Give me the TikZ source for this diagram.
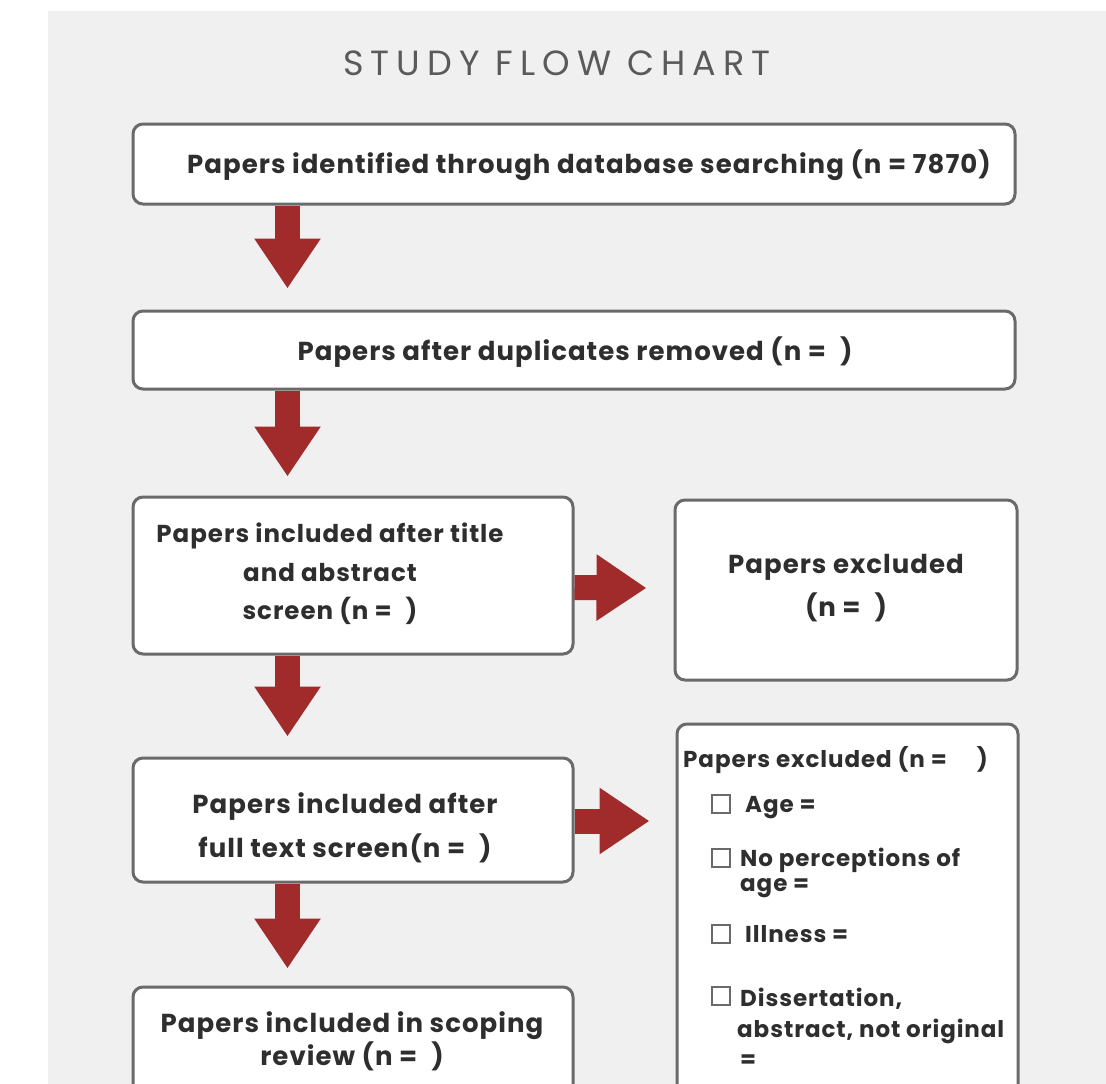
\documentclass[tikz,border=0pt]{standalone}
\usepackage{fontspec}
\setmainfont{Poppins}
\newfontfamily\titlefont[LetterSpace=20]{Poppins}
\newfontfamily\bxf[LetterSpace=4]{Poppins}
\usetikzlibrary{arrows.meta,calc}
\definecolor{panel}{HTML}{F0F0F0}
\definecolor{edge}{HTML}{6A6A6A}
\definecolor{arrowred}{HTML}{A12B2B}
\definecolor{ink}{HTML}{2E2E2E}
\definecolor{titleink}{HTML}{5A5A5A}
\newcommand{\gapn}{(n =\hspace{14pt})}
\begin{document}
\begin{tikzpicture}[x=1pt,y=-1pt,
  box/.style={draw=edge, line width=3pt, rounded corners=10pt, fill=white, inner sep=0pt},
  txt/.style={align=center, text=ink, inner sep=0pt, font=\fontsize{26}{#1}\bxf\bfseries},
  txt/.default=38,
  itemfont/.style={font=\fontsize{23}{28}\bxf\bfseries, text=ink, inner sep=0pt},
  fat/.style={draw=arrowred, line width=25pt, -{Triangle[width=63pt,length=50pt,fill=arrowred]}},
  tick/.style={draw=edge, line width=2pt, minimum size=18pt, inner sep=0pt, fill=white}]
\useasboundingbox (0,0) rectangle (1106,1084);
\clip (0,0) rectangle (1106,1084);
\fill[white] (0,0) rectangle (1106,1084);
\fill[panel] (48,11) rectangle (1106,1084);

\node[font=\fontsize{35}{36}\titlefont, text=titleink] (title) at (557,63) {STUDY FLOW CHART};

% boxes
\node[box, minimum width=882pt, minimum height=80pt] (b1) at (574,164) {};
\node[box, minimum width=882pt, minimum height=78pt] (b2) at (574,350) {};
\node[box, minimum width=440pt, minimum height=157pt] (b3) at (353,575.5) {};
\node[box, minimum width=342pt, minimum height=180pt] (e1) at (846,590) {};
\node[box, minimum width=440pt, minimum height=124pt] (b4) at (353,820) {};
\node[box, minimum width=341pt, minimum height=380pt] (e2) at (847.5,914) {};
\node[box, minimum width=440pt, minimum height=112pt] (b5) at (353,1043) {};

% box texts
\node[txt] (t1) at (589,165) {Papers identified through database searching (n = 7870)};
\node[txt] (t2) at (575,352) {Papers after duplicates removed \gapn};
\node[txt=38.5, font=\fontsize{24.5}{38.5}\bxf\bfseries] (t3) at (330,574) {Papers included after title\\and abstract\\screen \gapn};
\node[txt=43] (t4) at (846,588.5) {Papers excluded\\\gapn};
\node[txt=44] (t5) at (345,827.5) {Papers included after\\full text screen\gapn};
\node[txt=33] (t6) at (352,1041) {Papers included in scoping\\review \gapn};

% excluded list
\node[itemfont, anchor=base west] (x0) at (683,767) {Papers excluded (n =\hspace{30pt})};
\node[tick] (c1) at (721,804) {};
\node[itemfont, anchor=base west] (x1) at (745,812) {Age =};
\node[tick] (c2) at (721,858) {};
\node[itemfont, anchor=base west] (x2) at (740,866) {No perceptions of};
\node[itemfont, anchor=base west] (x2b) at (740,891) {age =};
\node[tick] (c3) at (721,934) {};
\node[itemfont, anchor=base west] (x3) at (745,942) {Illness =};
\node[tick] (c4) at (721,996) {};
\node[itemfont, anchor=base west] (x4) at (740,1006) {Dissertation,};
\node[itemfont, anchor=base west] (x4b) at (737,1037) {abstract, not original};
\node[itemfont, anchor=base west] (x4c) at (740,1067) {=};

% arrows
\draw[fat] ($(b1.south west)+(156,0)$) -- ($(b2.north west)+(156,-21)$);
\draw[fat] ($(b2.south west)+(156,0)$) -- ($(b3.north west)+(156,-19)$);
\draw[fat] ($(b3.south west)+(156,0)$) -- ($(b4.north west)+(156,-20)$);
\draw[fat] ($(b4.south west)+(156,0)$) -- ($(b5.north west)+(156,-17)$);
\draw[fat] ($(b3.east)+(0,12)$) -- ($(e1.west)+(-27,-2)$);
\draw[fat] ($(b4.east)+(0,1)$) -- ($(b4.east)+(75,1)$);
\end{tikzpicture}
\end{document}
